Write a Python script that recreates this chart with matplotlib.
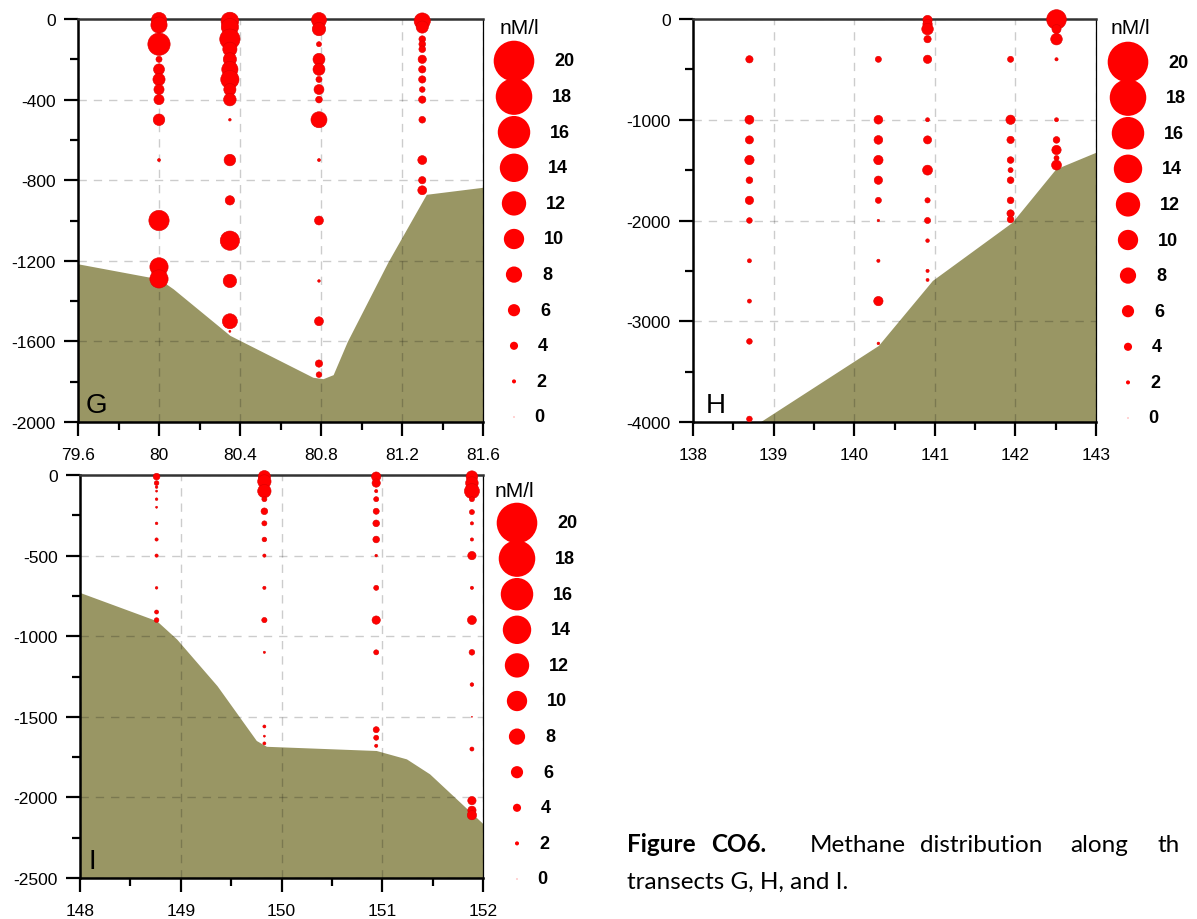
import matplotlib
matplotlib.use('Agg')
import matplotlib.pyplot as plt
from matplotlib.ticker import MultipleLocator, FormatStrFormatter

plt.rcParams['font.family'] = ['Liberation Sans', 'DejaVu Sans']
plt.rcParams['axes.unicode_minus'] = False

# ---- transect G ----
g_stations = [80.0, 80.35, 80.79, 81.30]
g_depths = [
    [-5, -30, -100, -125, -200, -250, -300, -350, -400, -500, -700, -1000, -1230, -1290],
    [-10, -40, -100, -150, -200, -250, -300, -350, -400, -500, -700, -900, -1100, -1300, -1500, -1550],
    [-5, -50, -125, -200, -250, -300, -350, -400, -500, -700, -1000, -1300, -1500, -1710, -1765],
    [-10, -40, -100, -125, -150, -200, -250, -300, -350, -400, -500, -700, -800, -850],
]
g_ch4 = [
    [7.5, 8, 5, 11, 3, 5.4, 6, 5, 5, 5.7, 1.5, 10, 9, 9],
    [8.7, 8.5, 10, 7, 6.5, 8, 9, 6, 6.2, 1.3, 5.7, 4.6, 9.5, 6.6, 7.4, 1],
    [7.4, 6.6, 2.5, 5.9, 5.9, 3, 4.9, 3.3, 7.9, 1.5, 4.4, 1.3, 4.4, 3.6, 2.8],
    [8, 6, 3.3, 3.3, 3.3, 4.1, 3.6, 3.6, 2.8, 3.6, 3.3, 4.4, 3.6, 4.4],
]
g_bed_lon = [79.6, 80.0, 80.07, 80.35, 80.76, 80.81, 80.86, 80.93, 81.13, 81.32, 81.6]
g_bed_depth = [-1215, -1290, -1339, -1570, -1778, -1785, -1765, -1600, -1207, -870, -835]

# ---- transect H ----
h_stations = [138.70, 140.30, 140.91, 141.94, 142.51]
h_depths = [
    [-400, -1000, -1200, -1400, -1600, -1800, -2000, -2400, -2800, -3200, -3970],
    [-400, -1000, -1200, -1400, -1600, -1800, -2000, -2400, -2800, -3220],
    [-10, -50, -100, -200, -400, -1000, -1200, -1500, -1800, -2000, -2200, -2500, -2590],
    [-400, -1000, -1200, -1400, -1500, -1600, -1800, -1930, -1990],
    [-5, -100, -200, -400, -1000, -1200, -1300, -1380, -1450],
]
h_ch4 = [
    [3.6, 4.4, 4, 4.6, 3.3, 4.1, 2.8, 2, 2, 2.8, 2.8],
    [3, 4.3, 4.3, 4.6, 4.1, 3, 1.2, 1.6, 4.6, 1.3],
    [4.6, 4.6, 5.7, 3.6, 4.1, 2, 4, 4.9, 2.6, 3, 1.8, 1.6, 1.5],
    [3, 4.6, 3.6, 3.3, 2.5, 3.3, 3.3, 3.6, 3.3],
    [9.7, 4.5, 5.7, 1.6, 2, 3.3, 4.6, 2.5, 4.9],
]
h_bed_lon = [138.83, 140.30, 140.97, 141.96, 142.50, 143.0]
h_bed_depth = [-4000, -3240, -2595, -2017, -1488, -1322]

# ---- transect I ----
i_stations = [148.76, 149.83, 150.94, 151.89]
i_depths = [
    [-10, -50, -75, -100, -150, -200, -300, -400, -500, -700, -850, -900],
    [-10, -40, -100, -150, -225, -300, -400, -500, -700, -900, -1100, -1560, -1620, -1665],
    [-10, -50, -100, -150, -225, -300, -400, -500, -700, -900, -1100, -1580, -1630, -1680],
    [-10, -50, -100, -150, -230, -300, -400, -500, -700, -900, -1100, -1300, -1500, -1700, -2020, -2080, -2110],
]
i_ch4 = [
    [3.3, 2.3, 1.3, 1, 1.3, 1, 1.3, 1.6, 1.6, 1.3, 2, 2.3],
    [6, 6.6, 6.6, 2.5, 3.3, 2.5, 2.3, 1.6, 1.6, 2.6, 1.1, 1.5, 1, 1.5],
    [4.6, 4.1, 1.6, 2.5, 3, 3.3, 3.3, 1.3, 2.5, 4.1, 2.5, 3, 2.5, 1.6],
    [5.7, 6.2, 7.4, 2.5, 2.5, 1.6, 1.6, 4.1, 1.6, 4.4, 2.8, 1.8, 0.5, 2, 4.1, 4.1, 4.6],
]
i_bed_lon = [148.0, 148.76, 148.96, 149.36, 149.75, 149.85, 150.94, 151.24, 151.47, 152.0]
i_bed_depth = [-729, -904, -1018, -1307, -1647, -1683, -1709, -1761, -1854, -2163]

legend_vals = [20, 18, 16, 14, 12, 10, 8, 6, 4, 2, 0]

W, H = 1197, 920
PT = 2.03 * 0.72   # marker diameter in points per nM/l
RED = '#ff0000'
SEABED = '#999664'

fig = plt.figure(figsize=(W / 100, H / 100), dpi=100)
fig.patch.set_facecolor('white')


def px_axes(l, t, r, b):
    return fig.add_axes([l / W, 1 - b / H, (r - l) / W, (b - t) / H])


def draw_panel(ax, stations, depths, ch4, bed_lon, bed_depth, xlim, ylim,
               xmaj, ymaj, letter, lx):
    ax.fill_between(bed_lon, bed_depth, ylim[0] - 1000, color=SEABED, lw=0, zorder=1)
    for x, d, v in zip(stations, depths, ch4):
        ax.scatter([x] * len(d), d, s=[(PT * c) ** 2 for c in v], c=RED,
                   edgecolors='#dd0000', linewidths=0.4, zorder=3, clip_on=False)
    ax.set_xlim(*xlim)
    ax.set_ylim(*ylim)
    ax.xaxis.set_major_locator(MultipleLocator(xmaj))
    ax.xaxis.set_minor_locator(MultipleLocator(xmaj / 2))
    ax.yaxis.set_major_locator(MultipleLocator(ymaj))
    ax.yaxis.set_minor_locator(MultipleLocator(ymaj / 2))
    ax.xaxis.set_major_formatter(FormatStrFormatter('%g'))
    ax.yaxis.set_major_formatter(FormatStrFormatter('%g'))
    ax.grid(True, which='major', color='k', alpha=0.2, lw=1, ls=(0, (6, 5)), zorder=2)
    ax.tick_params(which='major', direction='out', length=10, width=1.6,
                   labelsize=12.5, pad=6)
    ax.tick_params(which='minor', direction='out', length=5.5, width=1.6)
    ax.tick_params(axis='x', which='major', pad=8)
    for side in ['left', 'bottom', 'top']:
        ax.spines[side].set_linewidth(1.8)
    ax.spines['top'].set_color('#333333')
    ax.spines['right'].set_linewidth(0.9)
    ax.text(lx, 0.025, letter, transform=ax.transAxes, fontsize=20,
            va='baseline', ha='left', zorder=4)


ax_g = px_axes(78, 20, 483, 423)
draw_panel(ax_g, g_stations, g_depths, g_ch4, g_bed_lon, g_bed_depth,
           (79.6, 81.6), (-2000, 0), 0.4, 400, 'G', 0.02)

ax_h = px_axes(693, 20, 1096, 423)
draw_panel(ax_h, h_stations, h_depths, h_ch4, h_bed_lon, h_bed_depth,
           (138, 143), (-4000, 0), 1, 1000, 'H', 0.032)

ax_i = px_axes(80, 476, 483, 879)
draw_panel(ax_i, i_stations, i_depths, i_ch4, i_bed_lon, i_bed_depth,
           (148, 152), (-2500, 0), 1, 500, 'I', 0.02)

# overlay in pixel units for the size legends and the caption
ov = fig.add_axes([0, 0, 1, 1])
ov.set_xlim(0, W)
ov.set_ylim(H, 0)
ov.axis('off')


def draw_legend(cx, top, ux, uy):
    ys = [top + 35.6 * k for k in range(len(legend_vals))]
    sizes = [(PT * v) ** 2 if v > 0 else 1.5 for v in legend_vals]
    cols = [RED if v > 0 else '#ffb4b4' for v in legend_vals]
    ov.scatter([cx] * len(ys), ys, s=sizes, c=cols, edgecolors='none')
    for v, y in zip(legend_vals, ys):
        ov.text(cx + v * 1.015 + 20, y, str(v), fontsize=13, fontweight='bold',
                va='center', ha='left')
    ov.text(ux, uy, 'nM/l', fontsize=15, va='center', ha='left')


draw_legend(514, 62, 500, 28)
draw_legend(1128, 63, 1111, 28)
draw_legend(517, 524, 495, 492)

# caption, first line justified like the source page
cap = dict(family=['Lato', 'DejaVu Sans'], fontsize=17.5, va='baseline', ha='left')
ov.text(627, 852, 'Figure', fontweight='bold', **cap)
ov.text(711, 852, 'CO6.', fontweight='bold', **cap)
for word, x in [('Methane', 810), ('distribution', 920), ('along', 1070), ('th', 1158)]:
    ov.text(x, 852, word, **cap)
ov.text(627, 889, 'transects G, H, and I.', **cap)

fig.savefig('out.png', dpi=100, facecolor='white')
